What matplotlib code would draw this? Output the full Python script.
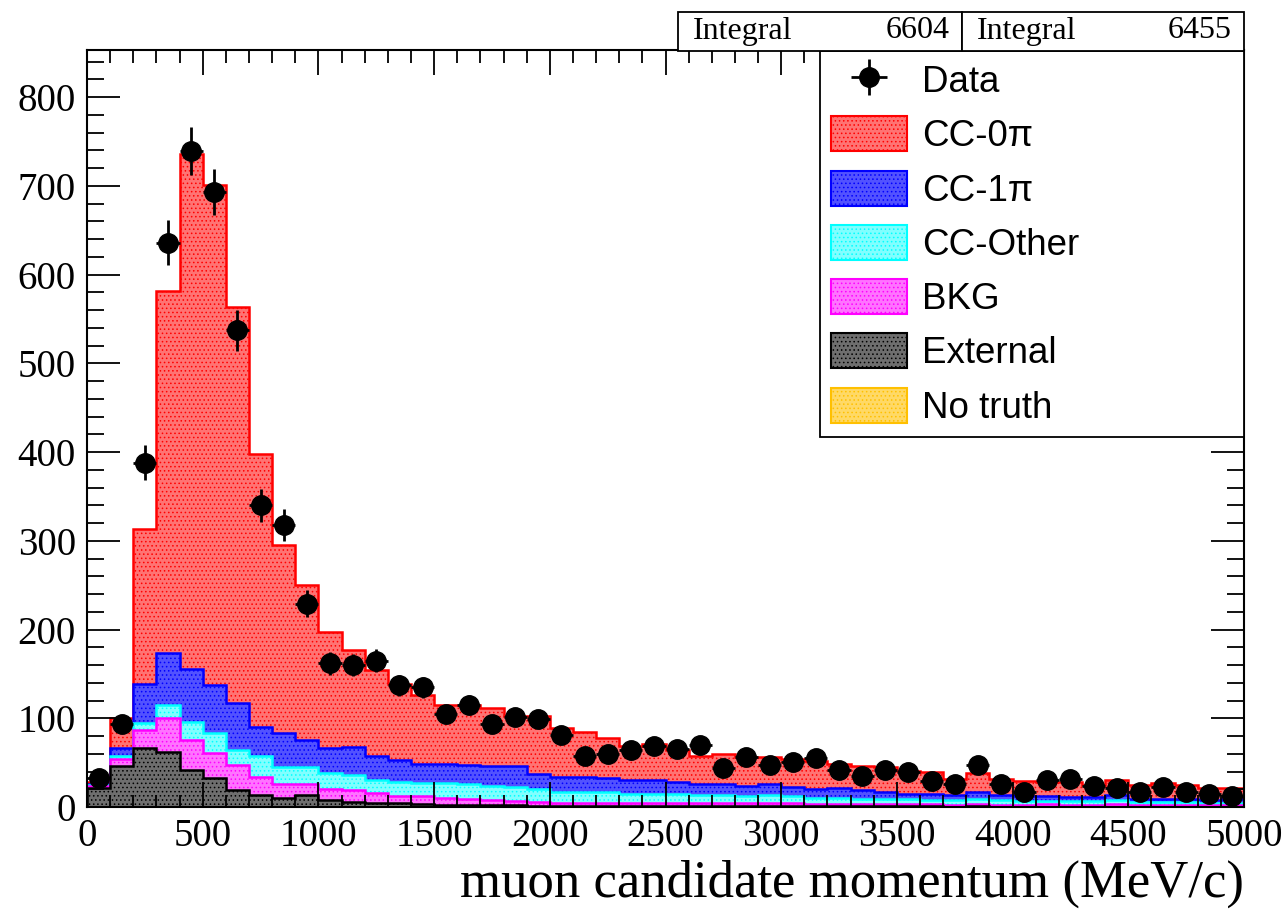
import numpy as np
import matplotlib
matplotlib.use("Agg")
from matplotlib import pyplot as plt
from matplotlib.patches import Patch, Rectangle
from matplotlib.ticker import MultipleLocator

# 50 bins of 100 MeV/c (cumulative stack tops)
edges = np.arange(0, 5001, 100)

ext_top = [21, 46, 66, 62, 42, 33, 19, 14, 10, 13,
           8, 6, 5, 4, 3, 2, 2, 2, 2, 1,
           1, 1, 1, 1, 1, 1, 1, 1, 1, 1,
           1, 1, 1, 1, 1, 1, 1, 0, 1, 0,
           0, 0, 0, 0, 0, 0, 0, 0, 0, 0]
bkg_top = [24, 54, 87, 100, 76, 61, 47, 34, 26, 26,
           20, 19, 16, 12, 12, 10, 9, 8, 7, 6,
           5, 5, 5, 5, 4, 4, 4, 4, 4, 4,
           4, 3, 3, 3, 3, 3, 3, 2, 3, 2,
           2, 3, 2, 2, 3, 2, 2, 2, 2, 2]
ccother_top = [25, 57, 95, 115, 96, 83, 64, 57, 45, 45,
               38, 36, 30, 28, 27, 27, 26, 24, 23, 20,
               17, 17, 17, 15, 15, 15, 13, 13, 12, 13,
               12, 10, 10, 9, 9, 9, 8, 8, 9, 8,
               7, 7, 7, 7, 8, 6, 6, 6, 5, 5]
cc1pi_top = [26, 66, 139, 174, 155, 138, 117, 90, 83, 76,
             66, 68, 57, 53, 49, 48, 47, 46, 46, 37,
             34, 34, 33, 30, 30, 28, 26, 26, 24, 26,
             23, 20, 21, 19, 17, 15, 15, 14, 17, 13,
             12, 12, 11, 11, 14, 9, 9, 9, 8, 9]
cc0pi_top = [28, 100, 313, 581, 736, 701, 563, 398, 295, 250,
             197, 177, 154, 139, 126, 115, 115, 111, 102, 102,
             89, 85, 78, 69, 71, 64, 57, 60, 56, 56,
             54, 52, 48, 46, 45, 41, 40, 32, 38, 32,
             29, 28, 28, 25, 30, 25, 27, 25, 21, 21]
data = [33, 93, 388, 636, 739, 693, 537, 340, 318, 229,
        162, 160, 165, 137, 135, 105, 115, 94, 101, 99,
        81, 57, 60, 64, 69, 65, 70, 44, 56, 47,
        51, 55, 42, 35, 42, 40, 29, 26, 47, 26,
        17, 30, 31, 24, 21, 17, 22, 17, 15, 12]

labels = ["CC-0\u03c0", "CC-1\u03c0", "CC-Other", "BKG", "External", "No truth"]
colors = ["#ff0000", "#0000ff", "#00ffff", "#ff00ff", "#000000", "#ffc000"]
integral_mc = "6604"
integral_data = "6455"


def light(c, f):
    rgb = np.array(matplotlib.colors.to_rgb(c))
    return tuple(rgb * f + (1 - f))


fill_frac = [0.55, 0.68, 0.5, 0.55, 0.57, 0.6]

plt.rcParams['hatch.linewidth'] = 0.6
serif = ["Liberation Serif", "DejaVu Serif"]
sans = ["Liberation Sans", "DejaVu Sans"]

fig = plt.figure(figsize=(12.87, 9.16), dpi=100)
ax = fig.add_axes([87/1287, 109/916, 1157/1287, 757/916])

layers = [cc0pi_top, cc1pi_top, ccother_top, bkg_top, ext_top]
for vals, c, f in zip(layers, colors, fill_frac):
    ax.stairs(vals, edges, baseline=0, fill=True, facecolor=light(c, f),
              edgecolor=c, linewidth=0, hatch="....")
    ax.stairs(vals, edges, baseline=0, fill=False, color=c, linewidth=1.8)

centers = 0.5 * (edges[:-1] + edges[1:])
err = ax.errorbar(centers, data, xerr=50, yerr=np.sqrt(data), fmt="o",
                  color="black", ms=14, elinewidth=2, capsize=0)

ax.set_xlim(0, 5000)
ax.set_ylim(0, 853)
ax.xaxis.set_major_locator(MultipleLocator(500))
ax.xaxis.set_minor_locator(MultipleLocator(100))
ax.yaxis.set_major_locator(MultipleLocator(100))
ax.yaxis.set_minor_locator(MultipleLocator(20))
ax.tick_params(axis="both", which="both", direction="in", top=True, right=True,
               width=1.3, colors="black")
ax.tick_params(axis="x", which="major", length=18, pad=8)
ax.tick_params(axis="x", which="minor", length=9)
ax.tick_params(axis="y", which="major", length=24, pad=8)
ax.tick_params(axis="y", which="minor", length=12)
for lab in ax.get_xticklabels() + ax.get_yticklabels():
    lab.set_fontfamily(serif)
    lab.set_fontsize(28)
for sp in ax.spines.values():
    sp.set_linewidth(1.5)

ax.set_xlabel("muon candidate momentum (MeV/c)", fontsize=38, family=serif,
              loc="right", labelpad=3)

handles = [err]
for c, f in zip(colors, fill_frac):
    handles.append(Patch(facecolor=light(c, f), edgecolor=c, hatch="....", linewidth=1.5))
leg = ax.legend(handles, ["Data"] + labels, loc="upper left",
                bbox_to_anchor=(0.6335, 0.0, 0.3665, 0.9987), mode="expand",
                prop={"family": sans, "size": 26.5}, frameon=True, fancybox=False,
                edgecolor="black", framealpha=1, borderpad=0.3, labelspacing=0.44,
                handlelength=2.06, handleheight=1.09, handletextpad=0.42,
                borderaxespad=0)
leg.get_frame().set_linewidth(1.3)

# stat boxes
for x0, x1, val in [(678, 962, integral_mc), (962, 1244, integral_data)]:
    fig.add_artist(Rectangle((x0/1287, 1 - 51/916), (x1 - x0)/1287, 39/916,
                             transform=fig.transFigure, facecolor="white",
                             edgecolor="black", linewidth=1.3))
    fig.text((x0 + 15)/1287, 1 - 31/916, "Integral", family=serif, fontsize=23,
             va="center", ha="left")
    fig.text((x1 - 12)/1287, 1 - 31/916, val, family=serif, fontsize=23,
             va="center", ha="right")

fig.savefig("out.png", dpi=100)
